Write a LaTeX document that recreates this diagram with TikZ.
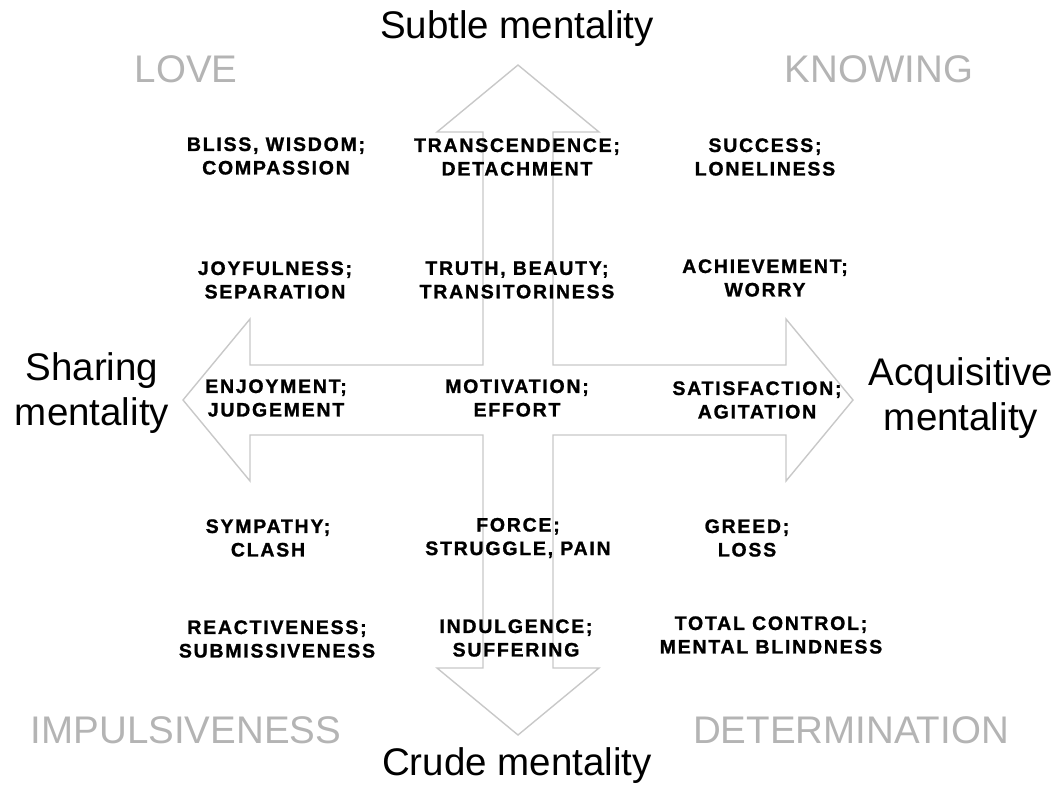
\documentclass[tikz,border=0pt]{standalone}
\usepackage{fontspec}
\setmainfont{Liberation Sans}
\newfontfamily\tagfont{Liberation Sans Bold}[LetterSpace=9, FakeBold=1.2]
\definecolor{outline}{HTML}{C8C8C8}
\definecolor{quadgray}{HTML}{B4B4B4}

\begin{document}
\begin{tikzpicture}[x=1pt,y=-1pt,
  axislabel/.style={font=\fontsize{38.5}{45}\selectfont, inner sep=0, align=center},
  quadlabel/.style={font=\fontsize{38.5}{45}\selectfont, text=quadgray, inner sep=0, anchor=base},
  duo/.style={font=\tagfont\fontsize{19.5}{23.5}\selectfont, inner sep=0, align=center},
  crossarrow/.style={draw=outline, line width=1.4pt, line join=miter}]

\useasboundingbox (0,0) rectangle (1061,787);

% four-headed cross arrow (centre 518,400; shaft half-width 35; head 67 long, 81 half-wide)
\draw[crossarrow]
  (518,65) -- (599,132) -- (553,132) -- (553,365) -- (786,365) -- (786,319)
  -- (853,400) -- (786,481) -- (786,435) -- (553,435) -- (553,668) -- (599,668)
  -- (518,735) -- (437,668) -- (483,668) -- (483,435) -- (250,435) -- (250,481)
  -- (183,400) -- (250,319) -- (250,365) -- (483,365) -- (483,132) -- (437,132)
  -- cycle;

% axis labels
\node[axislabel, anchor=base] (subtle) at (517,38) {Subtle mentality};
\node[axislabel, anchor=base] (crude) at (517,775) {Crude mentality};
\node[axislabel] (sharing) at (92,393) {Sharing\\mentality};
\node[axislabel] (acquisitive) at (961,398) {Acquisitive\\mentality};

% quadrant labels
\node[quadlabel] (love) at (186,82) {LOVE};
\node[quadlabel] (knowing) at (879,82) {KNOWING};
\node[quadlabel] (impulsive) at (186,743) {IMPULSIVENESS};
\node[quadlabel] (determination) at (851,743) {DETERMINATION};

% states along the grid
\node[duo] (s11) at (276,156) {BLISS, WISDOM;\\COMPASSION};
\node[duo] (s12) at (517,157) {TRANSCENDENCE;\\DETACHMENT};
\node[duo] (s13) at (765,157) {SUCCESS;\\LONELINESS};

\node[duo] (s21) at (275,280) {JOYFULNESS;\\SEPARATION};
\node[duo] (s22) at (517,280) {TRUTH, BEAUTY;\\TRANSITORINESS};
\node[duo] (s23) at (765,278) {ACHIEVEMENT;\\WORRY};

\node[duo] (s31) at (276,398) {ENJOYMENT;\\JUDGEMENT};
\node[duo] (s32) at (517,398) {MOTIVATION;\\EFFORT};
\node[duo] (s33) at (757,400) {SATISFACTION;\\AGITATION};

\node[duo] (s41) at (268,538) {SYMPATHY;\\CLASH};
\node[duo] (s42) at (518,538) {FORCE;\\STRUGGLE, PAIN};
\node[duo] (s43) at (747,538) {GREED;\\LOSS};

\node[duo] (s51) at (277,639) {REACTIVENESS;\\SUBMISSIVENESS};
\node[duo] (s52) at (516,638) {INDULGENCE;\\SUFFERING};
\node[duo] (s53) at (771,635) {TOTAL CONTROL;\\MENTAL BLINDNESS};

\end{tikzpicture}
\end{document}
